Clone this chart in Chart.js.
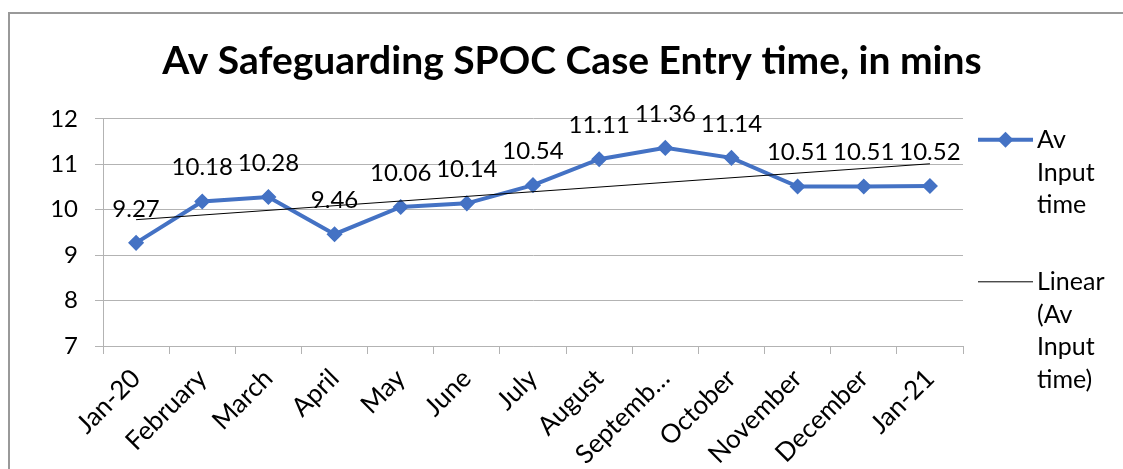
<!DOCTYPE html>
<html>
<head>
<meta charset="utf-8">
<script src="https://cdn.jsdelivr.net/npm/chart.js@4.4.1/dist/chart.umd.min.js"></script>
<style>
  body { margin: 0; background: #fff; }
  #frame { position: absolute; left: 8px; top: 12px; width: 1120px; height: 460px;
           border-top: 2px solid #999; border-left: 2px solid #999; }
  #myChart { position: absolute; left: 0; top: 0; }
</style>
</head>
<body>
<div id="frame"></div>
<canvas id="myChart" width="1123" height="469"></canvas>
<script>
const months = ['Jan-20','February','March','April','May','June','July','August','September','October','November','December','Jan-21'];
const inputTime = [9.27,10.18,10.28,9.46,10.06,10.14,10.54,11.11,11.36,11.14,10.51,10.51,10.52];
// trendline end values
const trendLine = [9.78,null,null,null,null,null,null,null,null,null,null,null,11.01];
const yTicks = [7,8,9,10,11,12];
const mainLegend = ['Av','Input','time'];
const trendLegend = ['Linear','(Av','Input','time)'];

const blue = '#4472C4';
const grey = '#b3b3b3';
const fontName = 'Lato';

// draws the value above each point
const valueLabels = {
  id: 'valueLabels',
  afterDatasetsDraw(chart) {
    const ctx = chart.ctx;
    const meta = chart.getDatasetMeta(1);
    ctx.save();
    ctx.font = '24px ' + fontName;
    ctx.fillStyle = '#000';
    ctx.textAlign = 'center';
    ctx.textBaseline = 'middle';
    meta.data.forEach((pt, i) => {
      ctx.fillText(inputTime[i].toFixed(2), pt.x, pt.y - 34);
    });
    ctx.restore();
  }
};

// legend on the right, with wrapped text like the original
const sideLegend = {
  id: 'sideLegend',
  beforeInit(chart) {
    const box = {
      position: 'right', weight: 0, fullSize: false, options: {},
      isHorizontal() { return false; },
      getPadding() { return {top: 0, left: 0, right: 0, bottom: 0}; },
      update(maxW, maxH) { this.width = 160; this.height = maxH; },
      draw() {
        const ctx = chart.ctx;
        const x0 = this.left + 15, x1 = this.left + 70, tx = this.left + 74;
        const top = chart.chartArea.top;
        const lh = 32.7;
        ctx.save();
        // main series
        let y = top + 21;
        ctx.strokeStyle = blue; ctx.lineWidth = 4;
        ctx.beginPath(); ctx.moveTo(x0, y); ctx.lineTo(x1, y); ctx.stroke();
        ctx.fillStyle = blue;
        ctx.beginPath();
        const cx = (x0 + x1) / 2;
        ctx.moveTo(cx - 8, y); ctx.lineTo(cx, y - 8); ctx.lineTo(cx + 8, y); ctx.lineTo(cx, y + 8);
        ctx.closePath(); ctx.fill();
        ctx.font = '25px ' + fontName;
        ctx.fillStyle = '#000';
        ctx.textAlign = 'left';
        ctx.textBaseline = 'middle';
        mainLegend.forEach((t, i) => ctx.fillText(t, tx, y + i * lh));
        // trendline
        y = top + 163;
        ctx.strokeStyle = '#000'; ctx.lineWidth = 1;
        ctx.beginPath(); ctx.moveTo(x0, y); ctx.lineTo(x1, y); ctx.stroke();
        trendLegend.forEach((t, i) => ctx.fillText(t, tx, y + i * lh));
        ctx.restore();
      }
    };
    Chart.layouts.addBox(chart, box);
  }
};

const ctx = document.getElementById('myChart');

new Chart(ctx, {
  type: 'line',
  data: {
    labels: months,
    datasets: [{
      label: 'Linear (Av Input time)',
      data: trendLine,
      borderColor: '#000',
      borderWidth: 1,
      pointRadius: 0,
      spanGaps: true,
      order: 0
    }, {
      label: 'Av Input time',
      data: inputTime,
      borderColor: blue,
      backgroundColor: blue,
      borderWidth: 4,
      pointStyle: 'rectRot',
      pointRadius: 7,
      pointBorderWidth: 1.5,
      tension: 0,
      order: 1
    }]
  },
  options: {
    responsive: false,
    animation: false,
    layout: { padding: { left: 21, right: 0, top: 0, bottom: 0 } },
    plugins: {
      legend: { display: false },
      tooltip: { enabled: false },
      title: {
        display: true,
        text: 'Av Safeguarding SPOC Case Entry time, in mins',
        color: '#000',
        font: { family: fontName, size: 39, weight: 'bold' },
        padding: { top: 38, bottom: 34 }
      }
    },
    scales: {
      y: {
        min: 7,
        max: 12,
        afterFit(s) { s.width = 82; },
        afterBuildTicks(s) { s.ticks = yTicks.map(v => ({value: v})); },
        ticks: { color: '#000', padding: 17, font: { family: fontName, size: 24 } },
        grid: { color: grey, tickLength: 8 },
        border: { color: grey }
      },
      x: {
        offset: true,
        afterFit(s) { s.height = 123; },
        ticks: {
          color: '#000',
          autoSkip: false,
          minRotation: 45,
          maxRotation: 45,
          padding: 9,
          font: { family: fontName, size: 26 },
          callback(v, i) {
            const t = months[i];
            return t.length > 8 ? t.slice(0, 7) + '\u2026' : t;
          }
        },
        grid: { color: grey, drawOnChartArea: false, tickLength: 8, offset: true },
        border: { color: grey }
      }
    }
  },
  plugins: [valueLabels, sideLegend]
});
</script>
</body>
</html>
